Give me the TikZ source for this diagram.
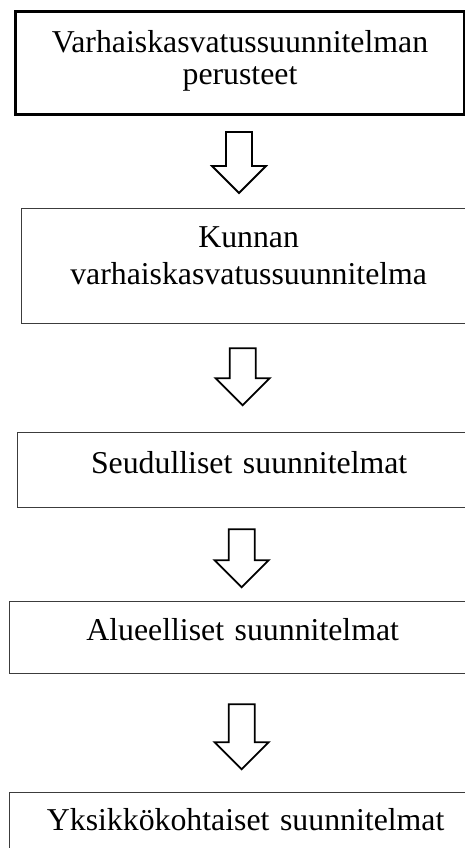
\documentclass[tikz,border=0pt]{standalone}
\usepackage{fontspec}
\setmainfont{Liberation Serif}
\usetikzlibrary{positioning, calc}
\definecolor{boxgray}{HTML}{3C3C3C}

\begin{document}
\begin{tikzpicture}[x=1pt, y=-1pt,
    box/.style={rectangle, draw=boxgray, line width=1.3pt, anchor=north west,
      inner xsep=0pt, inner ysep=0pt, align=center,
      font=\fontsize{31.8}{32}\selectfont},
    topbox/.style={box, draw=black, line width=3pt},
    arr/.style={draw=black, line width=1.8pt, fill=white, line join=miter},
    pics/downarr/.style={code={
      \path[arr] (-13,0) -- (13,0) -- (13,#1-27) -- (27,#1-27) -- (0,#1)
        -- (-27,#1-27) -- (-13,#1-27) -- cycle;}}]
    \useasboundingbox (0,0) rectangle (465,848);
    \clip (0,0) rectangle (465,848);
    \node[topbox, text width=449pt, text height=41pt, text depth=62pt] (perus) at (14,10)
      {Varhaiskasvatussuunnitelman\\perusteet};
    \node[box, text width=454pt, text height=39pt, text depth=76pt] (kunta) at (21,208)
      {Kunnan\\[5pt]varhaiskasvatussuunnitelma};
    \node[box, text width=463pt, text height=41pt, text depth=34pt] (seutu) at (17,432)
      {Seudulliset suunnitelmat};
    \node[box, text width=466pt, text height=39pt, text depth=33pt] (alue) at (9,601)
      {Alueelliset suunnitelmat};
    \node[box, text width=472pt, text height=38pt, text depth=42pt] (yksikko) at (9,792)
      {Yksikkökohtaiset suunnitelmat};
    % block arrows between the levels
    \path (perus.south) ++(-1,16) pic (nuoli1) {downarr=61};
    \path (kunta.south) ++(-6,24) pic (nuoli2) {downarr=57};
    \path (seutu.south) ++(-7.5,21) pic (nuoli3) {downarr=58};
    \path (alue.south) ++(-1,30) pic (nuoli4) {downarr=65};
  \end{tikzpicture}
\end{document}
